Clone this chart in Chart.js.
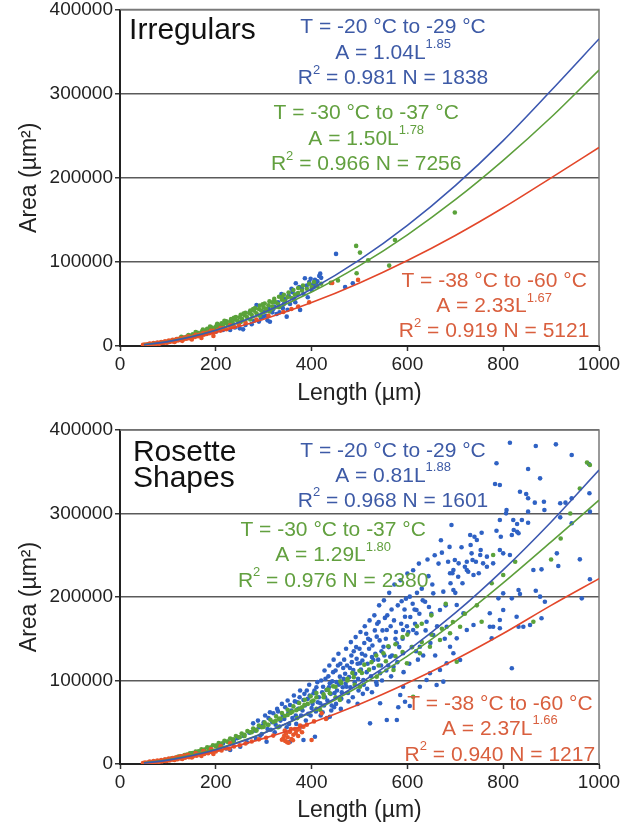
<!DOCTYPE html>
<html>
<head>
<meta charset="utf-8">
<script src="https://cdn.jsdelivr.net/npm/chart.js@4.4.1/dist/chart.umd.min.js"></script>
<style>
  body { margin: 0; background: #fff; }
  #wrap { position: relative; width: 625px; height: 828px; overflow: hidden; }
  canvas { position: absolute; left: 0; }
</style>
</head>
<body>
<div id="wrap">
  <canvas id="irregulars" width="625" height="416" style="top:-2px"></canvas>
  <canvas id="rosettes" width="625" height="414" style="top:414px"></canvas>
</div>
<script>
// ---- axis ticks ----
const xTicks = [0, 200, 400, 600, 800, 1000];
const yTicks = [0, 100000, 200000, 300000, 400000];

// ---- fitted power-law curves, read at these lengths (um) ----
const fitLengths = [50, 100, 200, 300, 400, 500, 600, 700, 800, 900, 1000];
const irrBlueFit  = [1450, 5210, 18800, 39800, 67800, 102400, 143400, 190700, 244200, 303700, 365000];
const irrGreenFit = [1590, 5450, 18700, 38500, 64200, 95600, 132200, 173900, 220700, 271900, 328000];
const irrRedFit   = [1600, 5100, 16200, 31900, 51600, 74900, 101600, 131400, 164300, 199900, 236000];
const rosBlueFit  = [1270, 4660, 17150, 36760, 63150, 96100, 135400, 180900, 232500, 289900, 352000];
const rosGreenFit = [1480, 5140, 17900, 37100, 62300, 93100, 129200, 170500, 216800, 266000, 316000];
const rosRedFit   = [1570, 4950, 15600, 30700, 49500, 71600, 97000, 125200, 156300, 190000, 222000];

// ---- Irregulars: measured particles [length, area] ----
const irrRed = [[48,1300],[52,1700],[55,1400],[58,2000],[60,1700],[63,2200],[66,2000],[68,2600],[71,2400],[74,3000],
  [76,2700],[79,3400],[82,3100],[84,3800],[87,3500],[90,4300],[92,3900],[95,4800],[98,4400],[100,5300],[103,4900],
  [106,5900],[109,5400],[112,6400],[115,6000],[118,7000],[121,6600],[124,7700],[127,7200],[130,8400],[133,7900],
  [136,9100],[139,8600],[142,9900],[145,9300],[148,10700],[151,10100],[154,11500],[157,10900],[160,12300],[163,11700],
  [166,13200],[169,12500],[172,14100],[175,13400],[178,15000],[181,14300],[184,16000],[187,15200],[190,17000],
  [193,16100],[196,18000],[200,17000],[205,19200],[210,18300],[216,21000],[222,20000],[230,23000],[238,22500],
  [248,25500],[262,28000],[285,31500],[310,36000],[341,40500],[358,44000],[372,47000],[395,52000],[443,75000],[497,78600],
  [62,2800],[70,3400],[78,4100],[86,4800],[94,5600],[102,6400],[110,7250],[118,8150],[126,9100],[134,10000],
  [142,11100],[158,13200],[174,15500],[190,18000],[210,21200],[230,24700],
  [66,2000],[82,2850],[98,3830],[114,4900],[130,6100],[150,7800],[170,9550],[195,12000]];
const irrGreen = [[90,4000],[100,5200],[105,5800],[110,6800],[115,7000],[120,8200],[125,8600],[130,9700],[135,10000],
  [140,11200],[145,11500],[150,12800],[155,12800],[160,14500],[165,14800],[170,16300],[175,16500],[180,18500],
  [185,18000],[190,20500],[195,20000],[200,22500],[205,21500],[210,24500],[215,23500],[220,27000],[225,25500],
  [230,29000],[235,28000],[240,31500],[245,30000],[250,34000],[255,32000],[260,36500],[265,34500],[270,39000],
  [275,37000],[280,42000],[285,39000],[290,44000],[295,42000],[300,46000],[305,44000],[310,48500],[318,47000],
  [325,52000],[330,50000],[338,55000],[345,53000],[350,58000],[358,57000],[365,61000],[372,63000],[380,66000],
  [390,68000],[400,70000],[412,71000],[420,74000],[440,75000],[455,78000],[493,119000],[501,111000],[518,102000],
  [494,86500],[562,95600],[699,158700],[574,126000],
  [152,13800],[162,15800],[172,17800],[182,20500],[192,22000],[202,25000],[212,27000],[222,29500],[232,32000],
  [242,34500],[252,37000],[262,39500],[272,42000],[282,45000],[292,48000],[302,50500],[312,53000],[322,56000],
  [332,58500],[342,61000],[352,63500],[362,66500],[372,69000],[382,72000],[395,74000],[405,76000],
  [232,24500],[252,28500],[272,31500],[292,36000],[312,41000],[332,46000],
  [128,11000],[143,13000],[158,16500],[173,19500],[188,23000],[203,26500],[218,30000],[238,33500],[258,38500],
  [278,44000],[298,49500],[318,52000],[338,58000]];
const irrBlue = [[200,17000],[215,19000],[230,19000],[240,22000],[250,21000],[257,19800],[262,25000],[271,40800],
  [275,26000],[280,30000],[285,48800],[290,29000],[295,33000],[299,34900],[305,36000],[310,45000],[313,28900],
  [318,40000],[322,47000],[327,38000],[330,52000],[337,61900],[340,45000],[345,56000],[348,34900],[352,60000],
  [355,50000],[360,64000],[363,56000],[367,74600],[370,62000],[376,42900],[380,68000],[386,80500],[390,72000],
  [395,76000],[400,66700],[405,70000],[407,78600],[410,74000],[416,83300],[420,81000],[451,109500],[470,70000],[486,74600],
  [300,41000],[308,30500],[320,44000],[333,40000],[342,50000],[350,43000],[358,68000],[366,52000],[374,70000],
  [383,62000],[392,58000],[398,80000],[403,73000],[412,77000],[418,86000]];

// ---- Rosette shapes: measured particles [length, area] ----
const rosRed = [[48,1200],[52,1600],[56,1400],[60,2000],[64,1800],[68,2400],[72,2200],[76,2900],[80,2700],[84,3400],
  [88,3200],[92,4000],[96,3700],[100,4700],[104,4400],[108,5400],[112,5100],[116,6200],[120,5800],[124,7000],
  [128,6600],[132,7800],[136,7400],[140,8700],[144,8200],[148,9600],[152,9100],[156,10600],[160,10000],[164,11600],
  [168,11000],[172,12600],[176,12000],[180,13700],[184,13000],[188,14800],[192,14000],[196,15900],[200,15000],
  [206,17200],[212,16300],[220,18800],[228,18200],[238,21000],[250,22500],[262,24500],[275,27000],[290,29500],
  [305,31500],[320,34000],[338,29000],[341,30800],[343,34000],[345,27500],[347,36800],[350,32000],[352,25500],
  [355,38500],[358,30000],[362,35000],[365,42000],[369,40700],[372,33500],[376,46000],[380,38000],[383,44700],
  [390,47000],[400,28700],[405,51000],[421,60700],[430,54000],
  [62,2800],[70,3400],[78,4100],[86,4800],[94,5600],[102,6400],[110,7250],[118,8150],[126,9100],[134,10000],
  [142,11100],[158,13200],[174,15500],[190,18000],[210,21200],[230,24700],
  [66,2000],[82,2850],[98,3830],[114,4900],[130,6100],[150,7800],[170,9550],[195,12000],
  [344,40000],[349,26000],[357,42000],[361,28500],[367,37000],[374,41500]];
const rosGreen = [[100,5500],[108,6800],[115,7500],[122,8800],[128,9300],[135,10800],[140,11200],[146,12800],
  [152,13000],[158,15000],[164,15200],[170,17500],[176,17400],[182,20000],[188,19800],[194,22500],[200,22000],
  [206,25000],[212,24500],[218,27800],[224,27000],[230,30500],[236,29500],[242,33500],[248,32000],[254,36500],
  [260,35000],[266,39500],[272,38000],[278,42500],[284,41000],[290,46000],[296,44000],[302,49500],[308,47000],
  [314,53000],[320,50500],[326,57000],[332,54000],[338,61000],[344,57500],[350,65000],[356,61000],[362,69000],
  [368,64500],[374,73000],[380,68000],[386,77000],[392,72000],[398,81000],[404,76000],[410,85000],[418,64700],
  [425,80000],[432,89000],[438,84700],[445,93000],[459,76600],[462,97000],[475,100000],[488,104000],[501,92600],
  [505,109000],[520,113000],[536,104600],[540,118000],[555,123000],[571,112600],[575,129000],[590,134000],
  [599,120600],[610,140000],[612,80600],[626,132600],[630,146000],[647,140500],[650,155000],[668,148500],
  [672,162000],[689,156500],[695,170000],[703,122500],[710,164400],[720,180000],[745,190000],[755,170400],
  [776,216400],[779,250300],[800,226300],[825,242300],[863,170400],[900,245000],[920,270000],[940,300000],
  [960,330000],[975,361000],[981,358000],
  [150,12800],[175,16500],[200,21500],[225,26500],[250,32000],[275,38000],[300,44500],[325,51500],[350,58800],
  [375,66500],[400,74800],[425,83500],[450,92400],[475,102000],[500,111700],[525,122000],[550,132600],
  [575,143500],[600,155000],[630,168000],[330,44000],[370,55000],[410,66000],[450,80000],[490,95000],
  [160,12500],[185,16500],[210,21500],[235,27000],[260,33500],[285,40000],[310,47000],[335,54500],[360,62500],
  [385,71000],[410,80000],[435,89000],[460,99000],[485,109000],[510,119000],[535,130000],[560,141000],
  [590,152000],[620,165000],[650,178000],[680,192000]];
const rosBlue = [[205,20000],[215,24500],[222,18500],[230,16800],[238,28000],[245,31000],[251,20700],[258,33500],
  [265,26000],[270,37500],[278,48700],[284,30000],[290,44000],[296,36000],[300,50000],
  [306,26700],[310,55000],[315,41000],[320,60700],[325,47000],[330,63000],[335,52000],[340,58000],[345,68000],
  [348,44000],[352,62000],[355,70700],[355,26700],[360,55000],[365,75000],[368,48000],[372,66000],[375,80000],
  [378,58000],[383,76600],[383,28700],[386,70000],[390,88000],[393,60000],[396,82000],[400,67000],[404,84700],
  [407,32700],[410,92000],[413,74000],[418,72700],[420,100000],[424,92600],
  [428,80000],[431,88600],[435,105000],[438,96600],[438,56600],[442,70000],[445,110000],[448,85000],[452,98000],
  [455,118000],[459,104600],[462,78000],[465,92000],[468,125000],[470,108000],[473,92600],[476,85000],[480,115000],
  [483,130000],[487,112600],[490,98000],[493,140000],[496,120000],[498,88000],[501,120600],[505,132000],
  [508,100600],[510,145000],
  [515,110000],[518,150000],[522,148500],[522,48700],[526,128000],[529,124600],[532,160000],[536,152500],
  [536,95000],[540,170000],[543,108600],[543,72700],[546,135000],[550,140500],[553,175000],[557,160500],
  [557,52700],[560,118000],[564,128500],[567,185000],[571,116500],[575,150000],[578,144500],[578,52700],
  [581,67900],[585,82600],[588,195000],[591,132600],[591,160500],[591,92600],[595,176400],[595,74600],[599,165000],
  [605,200400],[605,69500],[609,140000],[612,160500],[615,185000],[619,184400],[619,156500],[622,125000],
  [626,140500],[626,92600],[630,210000],[637,194400],[640,170400],[640,100600],[644,225000],[647,108600],
  [650,180000],[654,204400],[654,154500],[658,130000],[661,94600],[665,240000],[668,184400],[668,112600],
  [672,253100],[675,206400],[675,98600],[678,150000],[682,164400],[682,120600],[685,242300],[689,228400],
  [689,140500],[690,216400],[692,286200],[694,228400],[696,232300],[696,208400],[696,132600],[699,244300],
  [703,190400],[703,150500],[706,224300],[707,240300],[710,124600],[713,259500],[715,216400],[717,180500],
  [720,236300],[724,242300],[724,160500],[724,232300],[727,230300],[731,274300],[732,262300],[734,252300],
  [736,244300],[738,226300],[738,166500],[740,272200],[743,242300],[745,268300],[749,228400],[752,250300],
  [753,256300],[755,277000],[758,240300],[766,236300],[766,248300],[772,180500],[772,164400],[776,150500],
  [779,240300],[779,164400],[783,335300],[786,279400],[786,360100],[790,198400],[793,292200],[793,256300],
  [793,334100],[793,172500],[793,162500],[795,272200],[800,252300],[800,204400],[800,184400],
  [806,300200],[807,304200],[814,384800],[814,250300],[818,274300],[818,198400],[818,114600],[821,292200],
  [822,280200],[828,176400],[829,287400],[829,278200],[832,276300],[832,208400],[832,164400],[835,326100],
  [835,203600],[839,292200],[842,164400],[848,323400],[852,353300],[852,318200],[852,302200],[852,289000],
  [856,166500],[863,232300],[866,313000],[868,380800],[868,207500],[877,342100],[877,200400],[880,233100],
  [880,174500],[885,314100],[886,304200],[887,194400],[910,382800],[912,252300],[915,237100],[919,312200],
  [919,295400],[930,313000],[943,370000],[943,318200],[943,288300],[960,245100],[964,198400],[979,359300],
  [980,324200],[981,221200],[981,302200],
  [381,64000],[385,84000],[388,52000],[392,78000],[395,95000],[398,58000],[402,72000],[406,88000],[409,63000],
  [412,98000],[415,80000],[419,58000],[422,86000],[426,70000],[429,102000],[433,76000],[436,92000],[440,84000],
  [443,99000],[447,68000],[450,112000],[453,88000],[457,95000],[460,120000],[463,86000],[467,102000],[471,96000],
  [474,118000],[478,104000],[481,92000],[484,122000],[488,135000],[491,108000],[494,126000],[497,102000],
  [500,138000],[503,113000],[506,124000],[509,95000],[512,130000],[514,156000],[517,120000],[520,138000],
  [524,105000],[527,142000],[530,115000],[533,132000],[537,168000],[539,125000],[542,148000],[545,118000],
  [548,160000],[552,130000],[555,150000],[558,178000],[561,140000],[565,165000],[568,130000],[572,172000],
  [576,158000],[580,190000],[583,140000],[587,168000],[590,150000],[594,185000],[597,198000],[602,158000],
  [606,176000],[611,192000],[616,168000],[620,205000],[625,180000],[632,196000],[638,160000],[645,188000],[652,215000],
  [282,40000],[288,52000],[293,34000],[298,46000],[303,58000],[308,42000],[313,62000],[318,50000],[323,38000],
  [328,66000],[333,45000],[338,72000],[343,54000],[350,76000],[353,48000],[358,64000],[363,82000],[367,58000],
  [371,74000],[376,88000],[379,45000],
  [423,62000],[427,112000],[432,55000],[437,118000],[441,64000],[446,125000],[451,72000],[456,132000],[461,66000],
  [466,115000],[472,138000],[477,75000],[482,146000],[486,80000],[492,152000],[496,72000],[502,158000],[507,84000],
  [511,165000],[516,90000],[521,172000],[526,86000],
  [531,178000],[535,98000],[541,190000],[547,100000],[551,196000],[556,112000],[562,205000],[566,105000],
  [573,215000],[579,122000],[586,220000],[592,110000],[600,228000],[604,120000],[612,232000],[618,135000],
  [624,240000],[633,130000],[642,245000],[648,145000],[657,250000],[662,165000],[670,268000],[680,190000],
  [688,260000],[700,205000]];

const FONT = '"Liberation Sans", Arial, sans-serif';
const BLUE = '#3d5aa6', GREEN = '#62a03f', RED = '#d95f3e';

function pts(pairs) { return pairs.map(([x, y]) => ({ x, y })); }
function curve(vals) { return fitLengths.map((L, i) => ({ x: L, y: vals[i] })); }

// draw a line of text made of plain and superscript pieces
function drawRich(ctx, parts, x0, cy, size, color, align) {
  const base = size + 'px ' + FONT;
  const small = Math.round(size * 0.62) + 'px ' + FONT;
  let w = 0;
  const segs = parts.map(p => {
    const sup = typeof p !== 'string';
    const text = sup ? p.sup : p;
    ctx.font = sup ? small : base;
    const sw = ctx.measureText(text).width;
    w += sw;
    return { text, sup, sw };
  });
  let x = align === 'left' ? x0 : x0 - w / 2;
  ctx.fillStyle = color;
  ctx.textAlign = 'left';
  ctx.textBaseline = 'middle';
  segs.forEach(s => {
    ctx.font = s.sup ? small : base;
    ctx.fillText(s.text, x, s.sup ? cy - size * 0.4 : cy);
    x += s.sw;
  });
}

const notesPlugin = {
  id: 'notes',
  afterDatasetsDraw(chart, args, opts) {
    const { ctx, scales } = chart;
    ctx.save();
    opts.items.forEach(n => {
      const cx = scales.x.getPixelForValue(n.at[0]);
      const cy = scales.y.getPixelForValue(n.at[1]);
      n.lines.forEach((line, i) => drawRich(ctx, line, cx, cy + i * n.gap, n.size, n.color, n.align));
    });
    ctx.restore();
  }
};

// top and right edges of the plot box
const framePlugin = {
  id: 'frame',
  beforeDatasetsDraw(chart) {
    const { ctx, chartArea: a } = chart;
    ctx.save();
    ctx.strokeStyle = '#7a7a7a';
    ctx.lineWidth = 1.5;
    ctx.beginPath();
    ctx.moveTo(a.left, a.top);
    ctx.lineTo(a.right, a.top);
    ctx.lineTo(a.right, a.bottom);
    ctx.stroke();
    ctx.restore();
  }
};

function scatterSet(data, color) {
  return { data: pts(data), backgroundColor: color, borderWidth: 0, pointRadius: 2.3, pointHoverRadius: 2.3 };
}
function fitSet(vals, color) {
  return { data: curve(vals), showLine: true, borderColor: color, borderWidth: 1.6, pointRadius: 0,
           cubicInterpolationMode: 'monotone', fill: false };
}

function makeChart(id, sets, notes, pad, xHeight, titlePad) {
  return new Chart(document.getElementById(id), {
    type: 'scatter',
    data: { datasets: sets },
    options: {
      responsive: false,
      animation: false,
      events: [],
      layout: { padding: pad },
      plugins: { legend: { display: false }, tooltip: { enabled: false }, notes: { items: notes } },
      scales: {
        x: {
          type: 'linear', min: 0, max: 1000,
          afterBuildTicks: s => { s.ticks = xTicks.map(v => ({ value: v })); },
          afterFit: s => { s.height = xHeight; },
          grid: { drawOnChartArea: false, drawTicks: true, tickLength: 5, tickColor: '#333', tickWidth: 1.5 },
          border: { display: true, color: '#222', width: 2 },
          ticks: { color: '#222', padding: 2, font: { family: FONT, size: 19 }, callback: v => String(v) },
          title: { display: true, text: 'Length (µm)', color: '#222', padding: { top: 0, bottom: titlePad },
                   font: { family: FONT, size: 23 } }
        },
        y: {
          type: 'linear', min: 0, max: 400000,
          afterBuildTicks: s => { s.ticks = yTicks.map(v => ({ value: v })); },
          afterFit: s => { s.width = 120; },
          grid: { color: '#5a5a5a', lineWidth: 1.5, drawTicks: true, tickLength: 5, tickColor: '#333' },
          border: { display: true, color: '#222', width: 2 },
          ticks: { color: '#222', padding: 2, font: { family: FONT, size: 19, lineHeight: 1 },
                   callback: v => String(v) },
          title: { display: true, text: 'Area (µm²)', color: '#222', padding: { top: 16, bottom: 0 },
                   font: { family: FONT, size: 23 } }
        }
      }
    },
    plugins: [framePlugin, notesPlugin]
  });
}

makeChart('irregulars', [
  fitSet(irrBlueFit, '#3c58b0'),
  fitSet(irrGreenFit, '#5d9f3b'),
  fitSet(irrRedFit, '#e3472a'),
  scatterSet(irrRed, '#e8562a'),
  scatterSet(irrGreen, '#5aa23a'),
  scatterSet(irrBlue, '#2f62c4')
], [
  { at: [19, 375000], gap: 26, size: 30, color: '#111', align: 'left', lines: [['Irregulars']] },
  { at: [570, 378500], gap: 25.5, size: 21, color: BLUE, lines: [
    ['T = -20 °C to -29 °C'], ['A = 1.04L', { sup: '1.85' }], ['R', { sup: '2' }, ' = 0.981 N = 1838']] },
  { at: [514, 276500], gap: 25.5, size: 21, color: GREEN, lines: [
    ['T = -30 °C to -37 °C'], ['A = 1.50L', { sup: '1.78' }], ['R', { sup: '2' }, ' = 0.966 N = 7256']] },
  { at: [781, 76500], gap: 25, size: 21, color: RED, lines: [
    ['T = -38 °C to -60 °C'], ['A = 2.33L', { sup: '1.67' }], ['R', { sup: '2' }, ' = 0.919 N = 5121']] }
], { top: 10, right: 26, bottom: 0, left: 0 }, 68, 7);

makeChart('rosettes', [
  fitSet(rosBlueFit, '#3c58b0'),
  fitSet(rosGreenFit, '#5d9f3b'),
  fitSet(rosRedFit, '#e3472a'),
  scatterSet(rosRed, '#e8562a'),
  scatterSet(rosGreen, '#5aa23a'),
  scatterSet(rosBlue, '#2f62c4')
], [
  { at: [27, 372500], gap: 26, size: 30, color: '#111', align: 'left', lines: [['Rosette'], ['Shapes']] },
  { at: [570, 375000], gap: 25, size: 21, color: BLUE, lines: [
    ['T = -20 °C to -29 °C'], ['A = 0.81L', { sup: '1.88' }], ['R', { sup: '2' }, ' = 0.968 N = 1601']] },
  { at: [445, 280400], gap: 25.5, size: 21, color: GREEN, lines: [
    ['T = -30 °C to -37 °C'], ['A = 1.29L', { sup: '1.80' }], ['R', { sup: '2' }, ' = 0.976 N = 2380']] },
  { at: [793, 72100], gap: 25.5, size: 21, color: RED, lines: [
    ['T = -38 °C to -60 °C'], ['A = 2.37L', { sup: '1.66' }], ['R', { sup: '2' }, ' = 0.940 N = 1217']] }
], { top: 16, right: 26, bottom: 0, left: 0 }, 64, 4);
</script>
</body>
</html>
